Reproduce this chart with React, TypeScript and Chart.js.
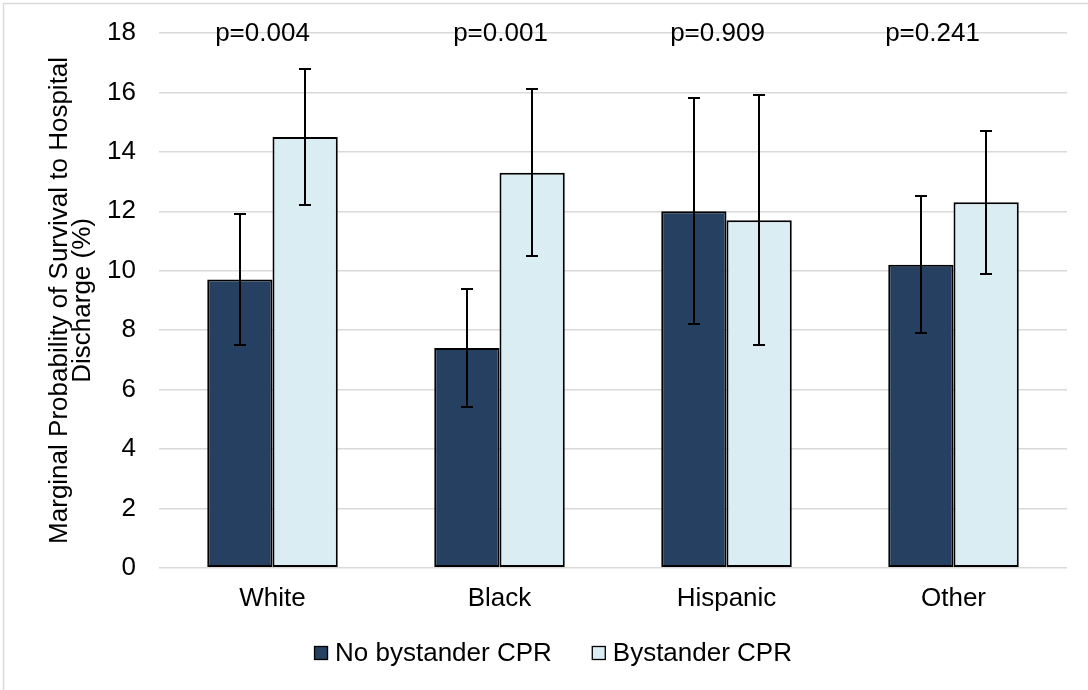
import React, { useEffect, useRef } from "react";
import { Chart, registerables } from "chart.js";

Chart.register(...registerables);

const categories = ["White", "Black", "Hispanic", "Other"];
const seriesNames = ["No bystander CPR", "Bystander CPR"];
const noCprValues = [9.7, 7.4, 12.0, 10.2];
const noCprLow = [7.5, 5.4, 8.2, 7.9];
const noCprHigh = [11.9, 9.4, 15.8, 12.5];
const cprValues = [14.5, 13.3, 11.7, 12.3];
const cprLow = [12.2, 10.5, 7.5, 9.9];
const cprHigh = [16.8, 16.1, 15.9, 14.7];
const pLabels = ["p=0.004", "p=0.001", "p=0.909", "p=0.241"];
const pLabelDx = [-10, 1, -9, -21];
const yTicks = [0, 2, 4, 6, 8, 10, 12, 14, 16, 18];

const FONT = "'Liberation Sans', Arial, sans-serif";
const FS = 26;

const errorBarPlugin = {
  id: "errorBars",
  afterDatasetsDraw(chart: any) {
    const ctx = chart.ctx;
    const y = chart.scales.y;
    const lows = [noCprLow, cprLow];
    const highs = [noCprHigh, cprHigh];
    ctx.save();
    ctx.strokeStyle = "#000000";
    ctx.lineWidth = 2;
    [0, 1].forEach((di) => {
      const meta = chart.getDatasetMeta(di);
      meta.data.forEach((bar: any, i: number) => {
        const x = Math.round(bar.x);
        const yl = Math.round(y.getPixelForValue(lows[di][i]));
        const yh = Math.round(y.getPixelForValue(highs[di][i]));
        ctx.beginPath();
        ctx.moveTo(x, yl);
        ctx.lineTo(x, yh);
        ctx.moveTo(x - 6, yl);
        ctx.lineTo(x + 6, yl);
        ctx.moveTo(x - 6, yh);
        ctx.lineTo(x + 6, yh);
        ctx.stroke();
      });
    });
    ctx.restore();
  },
};

const annotPlugin = {
  id: "annot",
  afterDraw(chart: any) {
    const ctx = chart.ctx;
    const x = chart.scales.x;
    const y = chart.scales.y;
    ctx.save();
    ctx.fillStyle = "#000000";
    ctx.font = `${FS}px ${FONT}`;
    ctx.textAlign = "center";
    ctx.textBaseline = "middle";
    pLabels.forEach((t, i) => {
      ctx.fillText(t, x.getPixelForValue(i) + pLabelDx[i], y.getPixelForValue(18) + 1);
    });

    // legend
    const ds = chart.data.datasets;
    const box = 14;
    const gapText = 7;
    const gapItem = 40;
    const widths = seriesNames.map((n) => ctx.measureText(n).width);
    const total = widths.reduce((a, w) => a + box + gapText + w, 0) + gapItem * (seriesNames.length - 1);
    let lx = chart.width / 2 + 9 - total / 2;
    const ly = 653;
    ctx.textAlign = "left";
    seriesNames.forEach((n, i) => {
      ctx.fillStyle = ds[i].backgroundColor;
      ctx.fillRect(lx, ly - box / 2, box, box);
      ctx.strokeStyle = "#000000";
      ctx.lineWidth = 1.3;
      ctx.strokeRect(lx + 0.5, ly - box / 2 + 0.5, box - 1, box - 1);
      ctx.fillStyle = "#000000";
      ctx.fillText(n, lx + box + gapText, ly + 1);
      lx += box + gapText + widths[i] + gapItem;
    });

    // chart border
    ctx.strokeStyle = "#d9d9d9";
    ctx.lineWidth = 1.5;
    ctx.strokeRect(3.5, 3.5, 1100, 700);
    ctx.restore();
  },
};

export default function App() {
  const ref = useRef<HTMLCanvasElement | null>(null);
  useEffect(() => {
    if (!ref.current) return;
    const chart = new Chart(ref.current, {
      type: "bar",
      data: {
        labels: categories,
        datasets: [
          {
            label: seriesNames[0],
            data: noCprValues,
            backgroundColor: "#264061",
            borderColor: "#000000",
            borderWidth: 2,
            borderSkipped: false,
          },
          {
            label: seriesNames[1],
            data: cprValues,
            backgroundColor: "#DAEDF3",
            borderColor: "#000000",
            borderWidth: 2,
            borderSkipped: false,
          },
        ],
      },
      options: {
        animation: false,
        responsive: false,
        maintainAspectRatio: false,
        datasets: { bar: { categoryPercentage: 0.575, barPercentage: 1.0 } },
        layout: { padding: { top: 33, right: 21, left: 0, bottom: 69 } },
        plugins: {
          legend: { display: false },
          tooltip: { enabled: false },
        },
        scales: {
          x: {
            grid: { display: false },
            border: { display: false },
            ticks: { color: "#000000", font: { family: FONT, size: FS }, padding: 7 },
          },
          y: {
            min: 0,
            max: 18,
            afterBuildTicks: (s: any) => {
              s.ticks = yTicks.map((v) => ({ value: v }));
            },
            afterFit: (s: any) => {
              s.width = 159;
              s.paddingTop = 0;
              s.paddingBottom = 0;
            },
            grid: { color: "#d9d9d9", lineWidth: 1.5, drawTicks: false },
            border: { display: false },
            ticks: { color: "#000000", font: { family: FONT, size: FS }, padding: 23 },
            title: {
              display: true,
              text: ["Marginal Probability of Survival to Hospital", "Discharge (%)"],
              color: "#000000",
              font: { family: FONT, size: FS, lineHeight: 0.9 },
              padding: { top: 48, bottom: 0 },
            },
          },
        },
      },
      plugins: [errorBarPlugin, annotPlugin],
    });
    return () => chart.destroy();
  }, []);
  return (
    <div style={{ position: "absolute", left: 0, top: 0, width: 1088, height: 690, background: "#fff" }}>
      <canvas ref={ref} width={1088} height={690} style={{ display: "block" }} />
    </div>
  );
}
